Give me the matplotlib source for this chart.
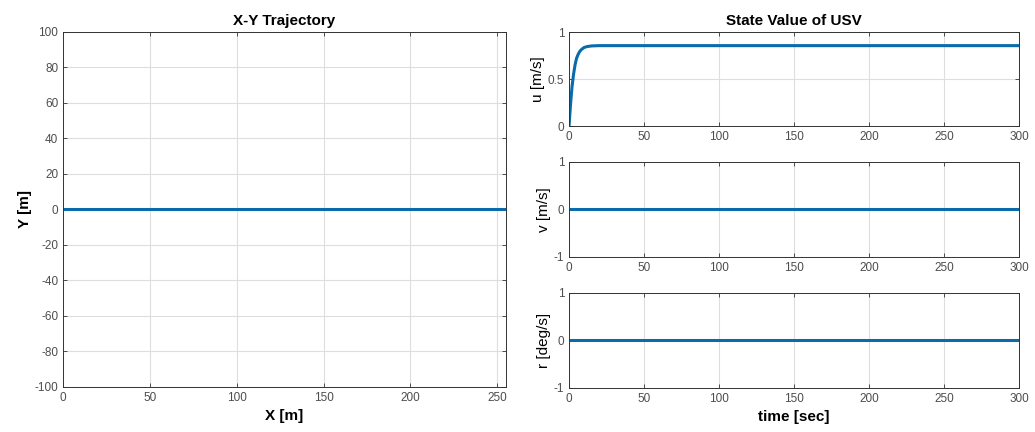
import matplotlib
matplotlib.use("Agg")
import matplotlib.pyplot as plt

plt.rcParams['font.family'] = ['Liberation Sans', 'DejaVu Sans']
plt.rcParams['axes.unicode_minus'] = False

# Trajectory in the X-Y plane
traj_x = [0, 255]
traj_y = [0, 0]

# Time history of the USV states
time_s = [0, 0.5, 1, 1.5, 2, 3, 4, 5, 6, 7, 8, 10, 12, 15, 20, 300]
surge_u = [0, 0.12, 0.23, 0.33, 0.42, 0.55, 0.65, 0.72, 0.76, 0.79, 0.81, 0.835, 0.845, 0.852, 0.855, 0.855]
sway_v = [0, 0]
yaw_r = [0, 0]
vr_time = [0, 300]

LINE = '#0b6aaa'
TICK = '#4d4d4d'
SPINE = '#333333'
GRID = '#dedede'


def style(ax):
    ax.grid(True, color=GRID, linewidth=0.8)
    ax.set_axisbelow(True)
    ax.tick_params(direction='in', top=True, right=True, length=3,
                   labelsize=8.5, labelcolor=TICK, color=SPINE, width=0.6)
    for s in ax.spines.values():
        s.set_color(SPINE)
        s.set_linewidth(0.7)


fig = plt.figure(figsize=(10.35, 4.32), dpi=100)

ax0 = fig.add_axes([0.0609, 0.1042, 0.428, 0.8218])
ax0.plot(traj_x, traj_y, color=LINE, linewidth=2.2)
ax0.set_xlim(0, 255)
ax0.set_ylim(-100, 100)
ax0.set_xticks([0, 50, 100, 150, 200, 250])
ax0.set_yticks(range(-100, 101, 20))
ax0.set_xlabel('X [m]', fontsize=11, fontweight='bold', labelpad=4)
ax0.set_ylabel('Y [m]', fontsize=11, fontweight='bold', labelpad=2)
ax0.set_title('X-Y Trajectory', fontsize=11, fontweight='bold', pad=5)
style(ax0)

left = 0.5498
width = 0.4348
ax1 = fig.add_axes([left, 0.7083, width, 0.2176])
ax2 = fig.add_axes([left, 0.4051, width, 0.2199])
ax3 = fig.add_axes([left, 0.1019, width, 0.2199])

ax1.plot(time_s, surge_u, color=LINE, linewidth=2.2)
ax1.set_ylim(0, 1)
ax1.set_yticks([0, 0.5, 1])
ax1.set_yticklabels(['0', '0.5', '1'])
ax1.set_ylabel('u [m/s]', fontsize=11, labelpad=2)
ax1.set_title('State Value of USV', fontsize=11, fontweight='bold', pad=5)

ax2.plot(vr_time, sway_v, color=LINE, linewidth=2.2)
ax2.set_ylim(-1, 1)
ax2.set_yticks([-1, 0, 1])
ax2.set_ylabel('v [m/s]', fontsize=11, labelpad=2)

ax3.plot(vr_time, yaw_r, color=LINE, linewidth=2.2)
ax3.set_ylim(-1, 1)
ax3.set_yticks([-1, 0, 1])
ax3.set_ylabel('r [deg/s]', fontsize=11, labelpad=2)
ax3.set_xlabel('time [sec]', fontsize=11, fontweight='bold', labelpad=4)

for ax in (ax1, ax2, ax3):
    ax.set_xlim(0, 300)
    ax.set_xticks([0, 50, 100, 150, 200, 250, 300])
    style(ax)

fig.savefig('out.png', dpi=100)
